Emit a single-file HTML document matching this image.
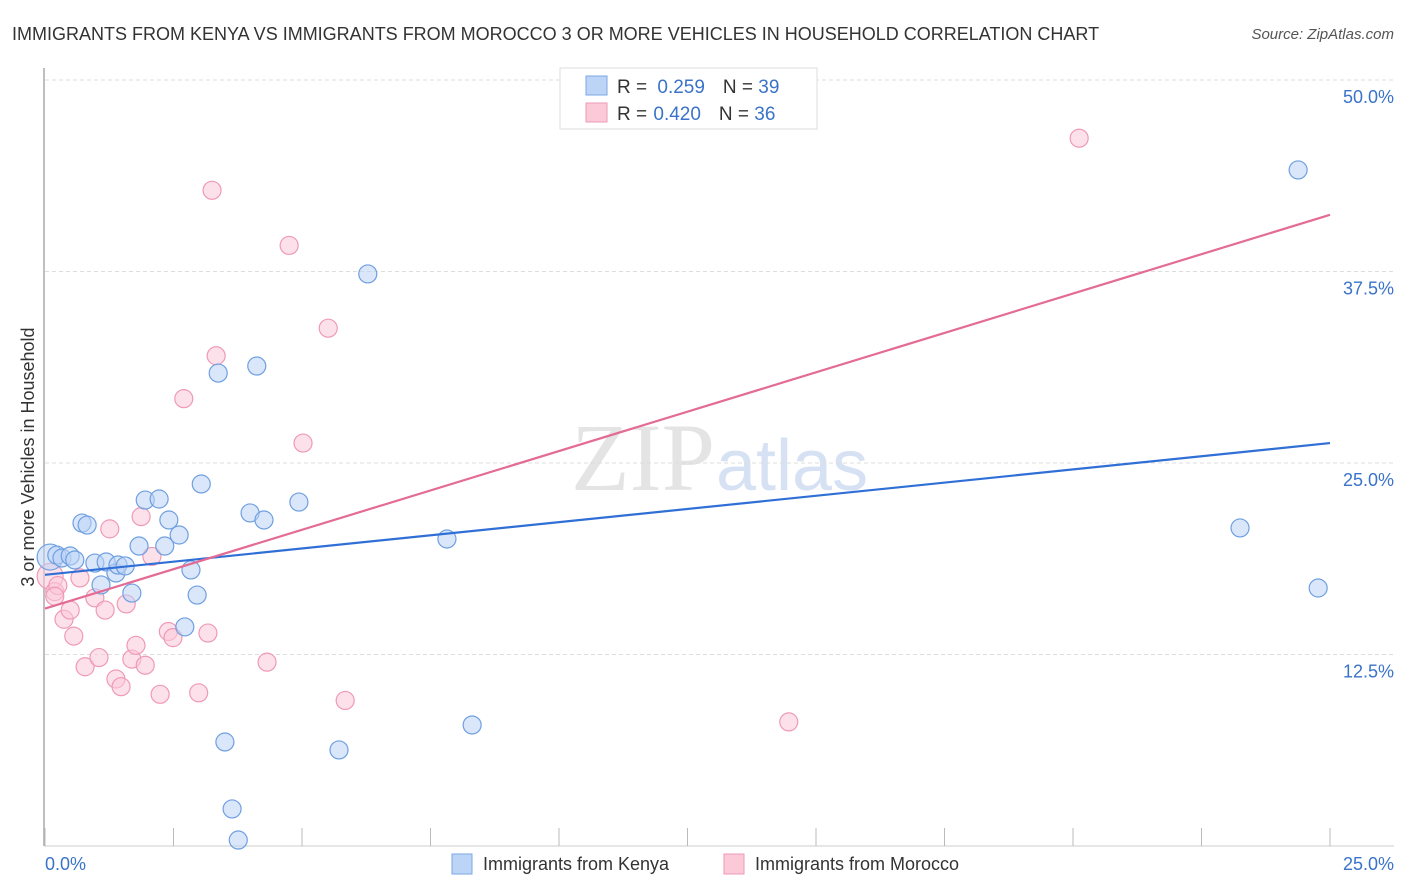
<!DOCTYPE html>
<html><head><meta charset="utf-8"><style>
body{margin:0;background:#fff;font-family:"Liberation Sans",sans-serif;}
#wrap{position:relative;width:1406px;height:892px;overflow:hidden}
</style></head><body>
<div id="wrap">
<svg id="svg" width="1406" height="892" xmlns="http://www.w3.org/2000/svg">
<text x="12" y="40" font-size="18" fill="#333">IMMIGRANTS FROM KENYA VS IMMIGRANTS FROM MOROCCO 3 OR MORE VEHICLES IN HOUSEHOLD CORRELATION CHART</text>
<text x="1394" y="39" font-size="15" fill="#555" text-anchor="end" font-style="italic">Source: ZipAtlas.com</text>
<text x="715" y="490" font-size="96" fill="#e4e4e4" text-anchor="end" font-family="Liberation Serif">ZIP</text>
<text x="716" y="490" font-size="72" fill="#d6e2f3">atlas</text>
<g id="grid"></g>
<g id="pts"></g>
<g id="lines"></g>
<text transform="translate(34,457) rotate(-90)" font-size="18" fill="#333" text-anchor="middle">3 or more Vehicles in Household</text>
<text x="45" y="870" font-size="18" fill="#3a73c9">0.0%</text>
<text x="1394" y="870" font-size="18" fill="#3a73c9" text-anchor="end">25.0%</text>
<g>
<rect x="560" y="68" width="257" height="61" fill="#fff" stroke="#ddd"/>
<rect x="586" y="76" width="21" height="19" fill="#bcd4f5" stroke="#7aa7e6"/>
<rect x="586" y="103" width="21" height="19" fill="#fbc9d8" stroke="#ef9ab5"/>
<text x="617" y="93" font-size="19" fill="#333">R = <tspan fill="#3a73c9" dx="5">0.259</tspan><tspan dx="18" fill="#333">N = </tspan><tspan fill="#3a73c9">39</tspan></text>
<text x="617" y="120" font-size="19" fill="#333">R = <tspan fill="#3a73c9" dx="1">0.420</tspan><tspan dx="18" fill="#333">N = </tspan><tspan fill="#3a73c9">36</tspan></text>
</g>
<g>
<rect x="452" y="854" width="20" height="20" fill="#bcd4f5" stroke="#7aa7e6"/>
<text x="483" y="870" font-size="18" fill="#333">Immigrants from Kenya</text>
<rect x="724" y="854" width="20" height="20" fill="#fbc9d8" stroke="#ef9ab5"/>
<text x="755" y="870" font-size="18" fill="#333">Immigrants from Morocco</text>
</g>
</svg>
</div>
<script>
const yTicks=[12.5,25,37.5,50];
const yTickLabels=["12.5%","25.0%","37.5%","50.0%"];
const xTicks=[0,2.5,5,7.5,10,12.5,15,17.5,20,22.5,25];
const kenyaX=[0.10,0.23,0.33,0.49,0.58,0.72,0.82,0.97,1.09,1.19,1.38,1.42,1.56,1.69,1.83,1.95,2.22,2.33,2.41,2.61,2.84,2.96,2.72,3.04,3.37,3.50,3.64,3.76,3.99,4.12,4.26,4.94,5.72,6.28,7.82,8.31,23.25,24.38,24.77];
const kenyaY=[18.86,18.99,18.8,18.93,18.67,21.08,20.95,18.47,17.04,18.54,17.82,18.34,18.28,16.51,19.58,22.58,22.65,19.58,21.28,20.3,18.02,16.38,14.3,23.63,30.87,6.79,2.42,0.39,21.74,31.33,21.28,22.45,6.27,37.34,20.04,7.9,20.76,44.13,16.84];
const moroccoX=[0.1,0.19,0.25,0.19,0.37,0.49,0.56,0.68,0.78,0.97,1.05,1.17,1.26,1.38,1.48,1.58,1.69,1.77,1.87,1.95,2.08,2.24,2.4,2.49,2.7,2.99,3.17,3.25,3.33,4.32,4.75,5.02,5.51,5.84,14.47,20.12];
const moroccoY=[17.6,16.6,17.0,16.3,14.8,15.4,13.7,17.5,11.7,16.2,12.3,15.4,20.7,10.9,10.4,15.8,12.2,13.1,21.5,11.8,18.9,9.9,14.0,13.6,29.2,10.0,13.9,42.8,32.0,12.0,39.2,26.3,33.8,9.5,8.1,46.2];
const kenyaTrend=[17.7,26.3];
const moroccoTrend=[15.5,41.2];
const NS="http://www.w3.org/2000/svg";
const X=v=>45+v/25*1285, Y=v=>846-v/50*766;
function mk(t,a,p){const e=document.createElementNS(NS,t);for(const k in a)e.setAttribute(k,a[k]);p.appendChild(e);return e;}
const grid=document.getElementById('grid');
const ax=mk('line',{x1:44,y1:68,x2:44,y2:846,stroke:'#aaa','stroke-width':1.5},grid);


const bx=mk('line',{x1:44,y1:846,x2:1394,y2:846,stroke:'#ccc'},grid);


yTicks.forEach((t,i)=>{
 const g=mk('line',{x1:45,x2:1394,y1:Y(t),y2:Y(t),stroke:'#ddd','stroke-dasharray':'4,3'},grid);
 
 
 const l=mk('text',{x:1394,y:Y(t)+23,'font-size':18,fill:'#3a73c9','text-anchor':'end'},grid);
 l.textContent=yTickLabels[i];
 
 
});
xTicks.forEach(t=>{
 const g=mk('line',{x1:X(t),x2:X(t),y1:828,y2:846,stroke:'#bbb'},grid);
 
 
});
const pts=document.getElementById('pts');
function draw(xs,ys,fill,stroke,name){
 xs.forEach((x,i)=>{if(ys[i]===undefined)return;
  const c=mk('circle',{cx:X(x),cy:Y(ys[i]),r:i===0?13:9,fill:fill,'fill-opacity':0.55,stroke:stroke,'stroke-width':1.2},pts);
  
  
 });
}
draw(moroccoX,moroccoY,'#fbc9d8','#ef9ab5','morocco-point');
draw(kenyaX,kenyaY,'#bcd4f5','#6f9fe0','kenya-point');
const lines=document.getElementById('lines');
const l1=mk('line',{x1:X(0),y1:Y(kenyaTrend[0]),x2:X(25),y2:Y(kenyaTrend[1]),stroke:'#2f6fd6','stroke-width':2.2},lines);


const l2=mk('line',{x1:X(0),y1:Y(moroccoTrend[0]),x2:X(25),y2:Y(moroccoTrend[1]),stroke:'#e36b95','stroke-width':2.2},lines);


</script>
</body></html>
